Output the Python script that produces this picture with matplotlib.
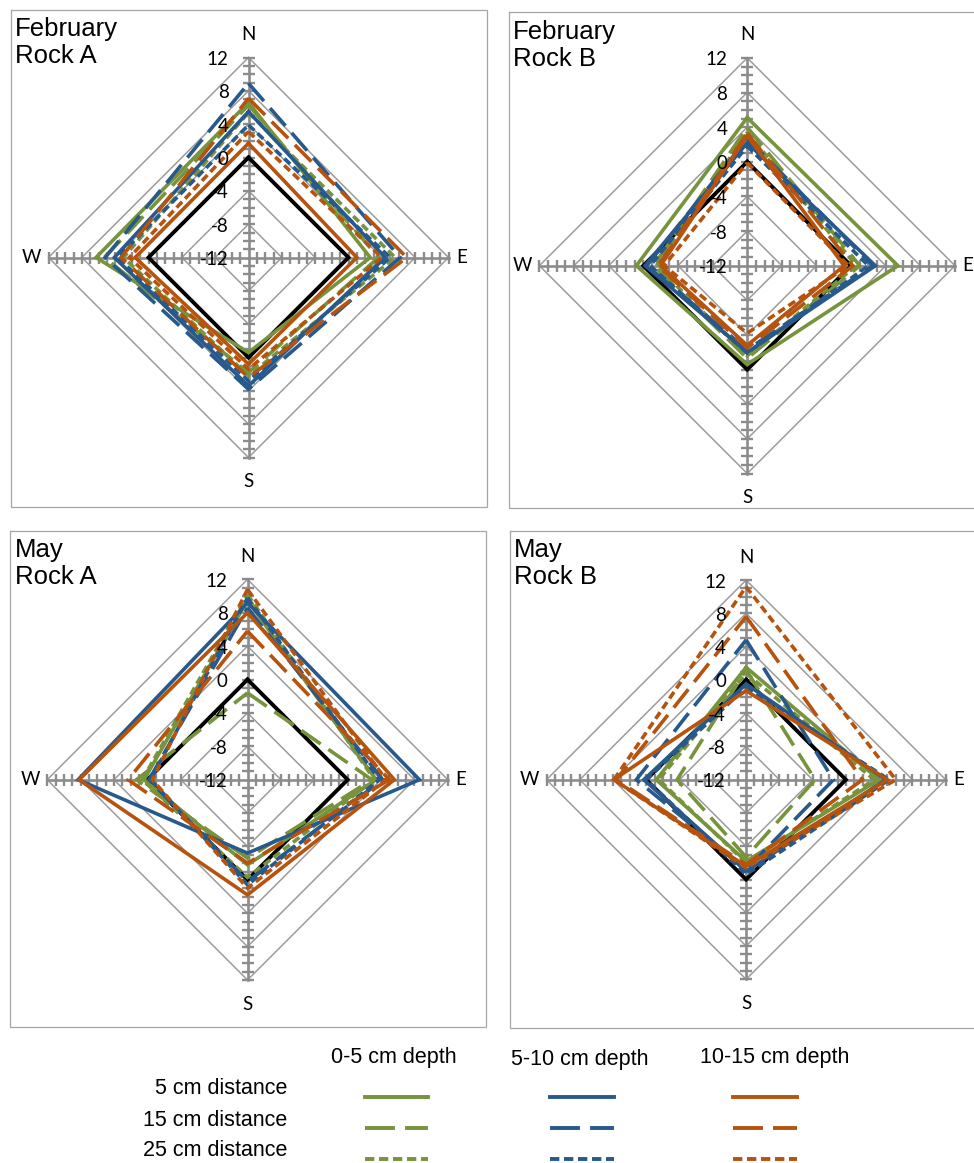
import numpy as np
import matplotlib
matplotlib.use("Agg")
import matplotlib.pyplot as plt
from matplotlib.transforms import offset_copy

# ---------------------------------------------------------------- data
directions = ["N", "E", "S", "W"]
radial_ticks = [12, 8, 4, 0, -4, -8, -12]
depth_labels = ["0-5 cm depth", "5-10 cm depth", "10-15 cm depth"]
distance_labels = ["5 cm distance", "15 cm distance", "25 cm distance"]
reference = [0, 0, 0, 0]

# rows: 5, 15, 25 cm distance; columns: N, E, S, W
feb_a_0_5 = [[6.6, 2.6, -0.6, 6.3], [6.3, 3.6, 1.8, 5.3], [5.4, 5.6, 2.2, 3.0]]
feb_a_5_10 = [[5.5, 4.4, 3.4, 4.1], [8.9, 6.2, 3.8, 5.2], [3.9, 5.0, 2.8, 3.7]]
feb_a_10_15 = [[1.7, 1.0, 0.8, 1.6], [7.1, 7.0, 2.4, 3.3], [3.1, 4.0, 1.4, 2.3]]

feb_b_0_5 = [[5.1, 5.4, -0.6, 0.8], [4.0, 1.0, -1.3, -1.2], [3.4, 0.6, -1.6, -1.5]]
feb_b_5_10 = [[2.2, 2.8, -2.0, -0.2], [2.7, 2.5, -2.3, -0.4], [1.8, 2.0, -1.9, -0.8]]
feb_b_10_15 = [[3.0, -0.8, -2.8, -2.0], [3.3, 0.2, -2.5, -1.7], [-0.1, -0.3, -4.2, -2.4]]

may_a_0_5 = [[9.5, 3.4, -1.8, 0.4], [-1.6, 2.9, -2.6, 1.3], [10.2, 3.2, -0.3, 0.6]]
may_a_5_10 = [[9.2, 8.6, -3.2, 8.3], [8.6, 4.2, 0.2, -0.2], [9.8, 3.8, 0.6, -0.4]]
may_a_10_15 = [[8.0, 5.6, 1.8, 8.2], [5.8, 5.0, -2.0, 2.3], [10.8, 4.6, 1.0, -0.6]]

may_b_0_5 = [[1.5, 4.0, -2.2, -1.2], [1.2, -3.7, -2.7, -3.7], [0.8, 3.4, -2.0, -1.5]]
may_b_5_10 = [[-0.5, 4.8, -1.0, 0.3], [4.8, -1.5, -1.2, 1.2], [-0.9, 5.2, -0.6, 0.0]]
may_b_10_15 = [[-1.3, 5.0, -1.6, 3.9], [7.6, 2.0, -1.8, 3.6], [11.2, 6.0, -1.4, 3.9]]

# ---------------------------------------------------------------- style
W_PX, H_PX, DPI = 974, 1163, 100
GREEN, BLUE, ORANGE = "#77933C", "#27598C", "#B5530F"
GRID, AXIS, FRAME = "#9C9C9C", "#8C8C8C", "#A6A6A6"
depth_colors = [GREEN, BLUE, ORANGE]
chart_styles = ["-", (0, (6.5, 2.6)), (0, (2.2, 1.2))]
key_styles = ["-", (0, (7.7, 2.6)), (0, (2.4, 1.2))]
LABEL_FONT = ["Lato", "DejaVu Sans"]
TEXT_FONT = ["Liberation Sans", "DejaVu Sans"]

panels = [
    dict(title="February\nRock A", data=[feb_a_0_5, feb_a_5_10, feb_a_10_15],
         center=(248.5, 257.5), radius=200, frame=(10.5, 9.5, 486.5, 507),
         title_xy=(15, 17)),
    dict(title="February\nRock B", data=[feb_b_0_5, feb_b_5_10, feb_b_10_15],
         center=(747.2, 265.7), radius=207.8, frame=(509, 12, 980, 508),
         title_xy=(513, 20)),
    dict(title="May\nRock A", data=[may_a_0_5, may_a_5_10, may_a_10_15],
         center=(247.5, 779.7), radius=200.3, frame=(10, 530.5, 486, 1027),
         title_xy=(15, 538.5)),
    dict(title="May\nRock B", data=[may_b_0_5, may_b_5_10, may_b_10_15],
         center=(746.1, 779.7), radius=199.6, frame=(509.5, 530.5, 980, 1028),
         title_xy=(514, 538.5)),
]

fig = plt.figure(figsize=(W_PX / DPI, H_PX / DPI), dpi=DPI)
fig.patch.set_facecolor("white")

# pixel-space layer for frames, titles and the legend table
layer = fig.add_axes([0, 0, 1, 1])
layer.set_xlim(0, W_PX)
layer.set_ylim(H_PX, 0)
layer.set_axis_off()

theta = np.deg2rad([0, 90, 180, 270])
theta_closed = np.append(theta, theta[0])
tick_r = np.arange(-11, 13)
grid_levels = [-8, -4, 0, 4, 8, 12]


def closed(vals):
    return list(vals) + [vals[0]]


for p in panels:
    x0, y0, x1, y1 = p["frame"]
    layer.plot([x0, x1, x1, x0, x0], [y0, y0, y1, y1, y0], color=FRAME, lw=0.9,
               solid_joinstyle="miter")
    layer.text(p["title_xy"][0], p["title_xy"][1], p["title"], ha="left", va="top",
               fontsize=18.5, family=TEXT_FONT, linespacing=1.15, color="black")

    cx, cy = p["center"]
    r = p["radius"]
    ax = fig.add_axes([(cx - r) / W_PX, 1 - (cy + r) / H_PX, 2 * r / W_PX, 2 * r / H_PX],
                      projection="polar")
    ax.set_theta_zero_location("N")
    ax.set_theta_direction(-1)
    ax.set_ylim(-12, 12)
    ax.set_axis_off()

    for g in grid_levels:
        ax.plot(theta_closed, [g] * 5, color=GRID, lw=1.1, zorder=1, clip_on=False,
                solid_joinstyle="miter")
    for i, th in enumerate(theta):
        ax.plot([th, th], [-12, 12], color=AXIS, lw=1.9, zorder=2, clip_on=False)
        ax.plot([th] * len(tick_r), tick_r, ls="none", marker="_" if i % 2 == 0 else "|",
                ms=8.5, mew=1.7, color=AXIS, zorder=2, clip_on=False)

    ax.plot(theta_closed, closed(reference), color="black", lw=2.8, zorder=3,
            solid_joinstyle="miter", clip_on=False)
    for depth_rows, color in zip(p["data"], depth_colors):
        for vals, ls in zip(depth_rows, chart_styles):
            ax.plot(theta_closed, closed(vals), color=color, lw=2.6, ls=ls, zorder=4,
                    solid_joinstyle="miter", dash_joinstyle="miter", clip_on=False)

    lab_trans = offset_copy(ax.transData, fig=fig, x=-20, y=-2, units="dots")
    for t in radial_ticks:
        ax.text(0, t, str(t), transform=lab_trans, ha="right", va="center",
                fontsize=13.5, family=LABEL_FONT, zorder=6)

    offsets = {"N": (0, 23), "E": (13, 0), "S": (0, -24), "W": (-17, 0)}
    for th, d in zip(theta, directions):
        dx, dy = offsets[d]
        tr = offset_copy(ax.transData, fig=fig, x=dx, y=dy, units="dots")
        ax.text(th, 12, d, transform=tr, ha="center", va="center", fontsize=13.5,
                family=LABEL_FONT, zorder=6)

# ---------------------------------------------------------------- legend table
header_x = [394, 580, 775]
header_y = [1057, 1060, 1057]
row_y = [1089, 1120, 1151]
key_x = [(365, 428), (550, 614), (733, 797)]
for lbl, hx, hy in zip(depth_labels, header_x, header_y):
    layer.text(hx, hy, lbl, ha="center", va="center", fontsize=15.5, family=TEXT_FONT)
for lbl, ry in zip(distance_labels, row_y):
    layer.text(287, ry, lbl, ha="right", va="center", fontsize=15.5, family=TEXT_FONT)
for (xa, xb), color in zip(key_x, depth_colors):
    for ry, ls in zip(row_y, key_styles):
        layer.plot([xa, xb], [ry + 7.5, ry + 7.5], color=color, lw=2.8, ls=ls)

fig.savefig("out.png", dpi=DPI, facecolor="white")
